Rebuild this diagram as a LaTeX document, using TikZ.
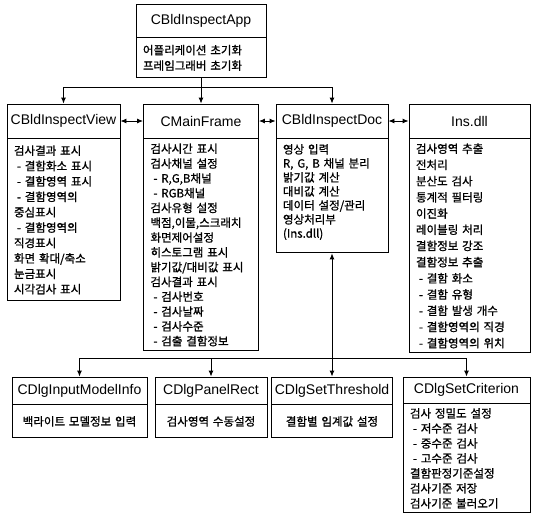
\documentclass[tikz,border=0pt]{standalone}
\usepackage{fontspec}
\setmainfont{Liberation Sans}
\newfontfamily\kr{Noto Sans CJK KR}[BoldFont={Noto Sans CJK KR},BoldFeatures={FakeBold=1}]
\newcommand{\dsh}{\hspace*{3pt}-\ }
\usetikzlibrary{positioning,arrows.meta}

\tikzset{
  cls/.style={draw, fill=white, font=\fontsize{14}{16}\selectfont, inner sep=1pt},
  body/.style={draw, fill=white, font=\kr\bfseries\fontsize{11.5}{#1}\selectfont, align=left, inner xsep=7pt, inner ysep=3pt},
  body/.default=14.8,
  note/.style={body, align=center},
  arr/.style={-{Latex[length=6pt,width=5pt]}},
  dbl/.style={{Latex[length=6pt,width=5pt]}-{Latex[length=6pt,width=5pt]}},
}

\begin{document}
\begin{tikzpicture}[x=1pt,y=-1pt,line width=0.9pt]
\useasboundingbox (0,0) rectangle (534,514);

% application
\node[cls, minimum width=130, minimum height=33] (app) at (201,20.5) {CBldInspectApp};
\node[body=15.5, below=0pt of app, text width=116pt, minimum height=40] (appbody) {어플리케이션 초기화\\프레임그래버 초기화};

% top row
\node[cls, minimum width=113, minimum height=34] (view) at (63.5,121) {CBldInspectView};
\node[body=15.4, below=0pt of view, text width=99pt, minimum height=162] (viewbody) {검사결과 표시\\
\dsh 결함화소 표시\\
\dsh 결함영역 표시\\
\dsh 결함영역의\\
중심표시\\
\dsh 결함영역의\\
직경표시\\
화면 확대/축소\\
눈금표시\\
시각검사 표시};

\node[cls, minimum width=115, minimum height=34] (frame) at (201,121) {CMainFrame};
\node[body, below=0pt of frame, text width=101pt, minimum height=212] (framebody) {검사시간 표시\\
검사채널 설정\\
\dsh R,G,B채널\\
\dsh RGB채널\\
검사유형 설정\\
백점,이물,스크래치\\
화면제어설정\\
히스토그램 표시\\
밝기값/대비값 표시\\
검사결과 표시\\
\dsh 검사번호\\
\dsh 검사날짜\\
\dsh 검사수준\\
\dsh 검출 결함정보};

\node[cls, minimum width=112, minimum height=34] (doc) at (332,121) {CBldInspectDoc};
\node[body=14, below=0pt of doc, text width=98pt, minimum height=114] (docbody) {영상 입력\\
R, G, B 채널 분리\\
밝기값 계산\\
대비값 계산\\
데이터 설정/관리\\
영상처리부\\
(Ins.dll)\\[-4pt]\mbox{}};

\node[cls, minimum width=121, minimum height=34] (ins) at (469.5,121) {Ins.dll};
\node[body=16.2, below=0pt of ins, text width=107pt, minimum height=214] (insbody) {검사영역 추출\\
전처리\\
분산도 검사\\
통계적 필터링\\
이진화\\
레이블링 처리\\
결함정보 강조\\
결함정보 추출\\
\dsh 결함 화소\\
\dsh 결함 유형\\
\dsh 결함 발생 개수\\
\dsh 결함영역의 직경\\
\dsh 결함영역의 위치};

% dialogs
\node[cls, minimum width=135, minimum height=27] (modelinfo) at (79.5,390.5) {CDlgInputModelInfo};
\node[note, below=0pt of modelinfo, text width=121pt, minimum height=33] (modelinfobody) {백라이트 모델정보 입력};

\node[cls, minimum width=112, minimum height=27] (panelrect) at (211,390.5) {CDlgPanelRect};
\node[note, below=0pt of panelrect, text width=98pt, minimum height=33] (panelrectbody) {검사영역 수동설정};

\node[cls, minimum width=121, minimum height=27] (threshold) at (332,390.5) {CDlgSetThreshold};
\node[note, below=0pt of threshold, text width=107pt, minimum height=33] (thresholdbody) {결함별 임계값 설정};

\node[cls, minimum width=127, minimum height=26] (criterion) at (466.5,390) {CDlgSetCriterion};
\node[body=15, below=0pt of criterion, text width=113pt, minimum height=109] (criterionbody) {검사 정밀도 설정\\
\dsh 저수준 검사\\
\dsh 중수준 검사\\
\dsh 고수준 검사\\
결함판정기준설정\\
검사기준 저장\\
검사기준 불러오기};

% connectors
\coordinate (topbus) at (201,87);
\draw (appbody.south) -- (topbus);
\draw[arr] (topbus) -| (view.north);
\draw[arr] (topbus) -- (frame.north);
\draw[arr] (topbus) -| (doc.north);

\draw[dbl] (view.east) -- (frame.west);
\draw[dbl] (frame.east) -- (doc.west);
\draw[dbl] (doc.east) -- (ins.west);

\coordinate (lowbus) at (332,358);
\draw[arr] (lowbus) -- (docbody.south);
\draw (modelinfo.north |- lowbus) -- (criterion.north |- lowbus);
\draw[arr] (modelinfo.north |- lowbus) -- (modelinfo.north);
\draw[arr] (panelrect.north |- lowbus) -- (panelrect.north);
\draw[arr] (lowbus) -- (threshold.north);
\draw[arr] (criterion.north |- lowbus) -- (criterion.north);

\end{tikzpicture}
\end{document}
